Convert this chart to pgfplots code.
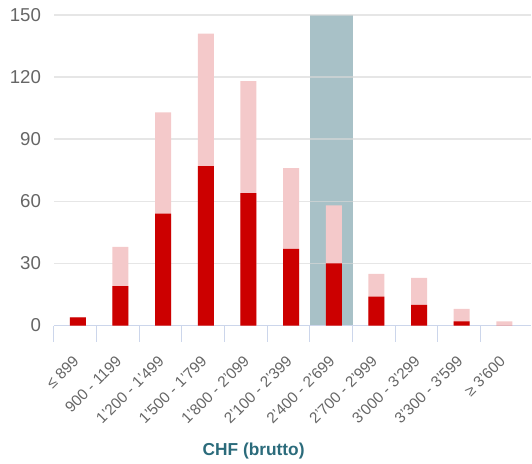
\documentclass[border=0pt]{standalone}
\usepackage{pgfplots}
\usepackage{pgfplotstable}
\pgfplotsset{compat=1.18}
\usepackage{fontspec}
\setmainfont{Liberation Sans}
\definecolor{darkred}{HTML}{CC0000}
\definecolor{pinkbar}{HTML}{F4C9CA}
\definecolor{band}{HTML}{A8C1C7}
\definecolor{gridc}{HTML}{D9D9D9}
\definecolor{axisc}{HTML}{CCD6EB}
\definecolor{labc}{HTML}{666666}
\definecolor{titc}{HTML}{2B6B7B}
\pgfplotstableread{
x dark total
0 4 4
1 19 38
2 54 103
3 77 141
4 64 118
5 37 76
6 30 58
7 14 25
8 10 23
9 2 8
10 0 2
}\data
\begin{document}
\begin{tikzpicture}
\begin{axis}[
  set layers,
  at={(40.5pt,103.5pt)}, anchor=south west,
  scale only axis, width=358.5pt, height=233.25pt,
  xmin=-0.5, xmax=10.69, ymin=0, ymax=150,
  ytick={0,30,...,150},
  ymajorgrids, grid style={gridc, opacity=0.65, line width=1.1pt},
  axis lines*=left,
  y axis line style={draw=none},
  x axis line style={axisc, line width=0.8pt},
  xtick={0,...,10},
  xticklabels={{≤ 899},{900 - 1199},{1'200 - 1'499},{1'500 - 1'799},{1'800 - 2'099},{2'100 - 2'399},{2'400 - 2'699},{2'700 - 2'999},{3'000 - 3'299},{3'300 - 3'599},{≥ 3'600}},
  major x tick style={draw=none},
  minor xtick={-0.5,0.5,...,9.5},
  minor x tick style={axisc, line width=0.8pt},
  minor tick length=12pt,
  tick align=outside,
  ytick style={draw=none},
  /pgf/number format/assume math mode=true,
  yticklabel style={font=\fontsize{14}{16}\selectfont, color=labc, xshift=-2pt},
  xticklabel style={font=\fontsize{11.5}{13}\selectfont, color=labc, anchor=east, yshift=-18pt, xshift=3pt, rotate=45},
]
\addplot[ybar, bar width=1, bar shift=0pt, fill=band, draw=none, on layer=axis background] coordinates {(6,150)};
\addplot[ybar, bar width=0.375, bar shift=0pt, fill=pinkbar, draw=none] table[x expr=\thisrow{x}+0.06, y=total]{\data};
\addplot[ybar, bar width=0.375, bar shift=0pt, fill=darkred, draw=none] table[x expr=\thisrow{x}+0.06, y=dark]{\data};
\end{axis}
\node[font=\bfseries\fontsize{13}{15}\selectfont, color=titc] at (190.5pt,9pt) {CHF (brutto)};
\path (0,0) rectangle (399pt,348pt);
\end{tikzpicture}
\end{document}
